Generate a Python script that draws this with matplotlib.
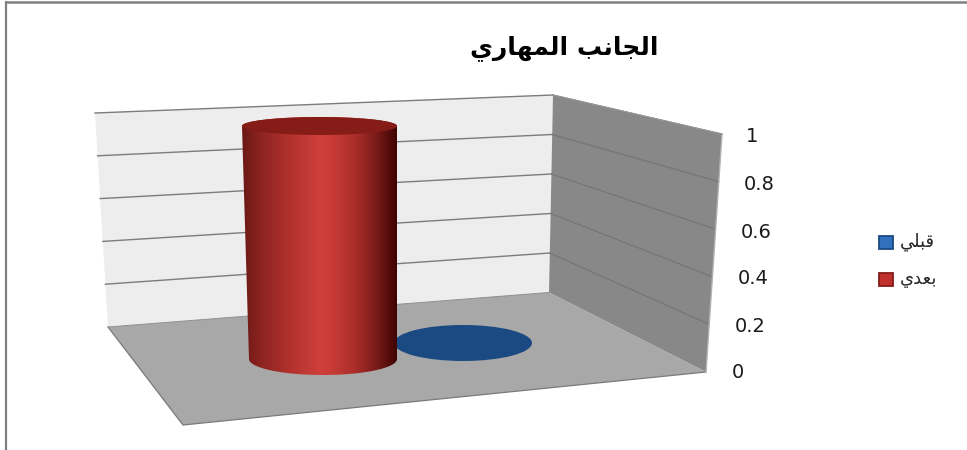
import numpy as np
import matplotlib
matplotlib.use('Agg')
import matplotlib.pyplot as plt
from matplotlib.colors import LinearSegmentedColormap
from matplotlib.patches import Ellipse, Polygon, Rectangle

# Chart data
title = 'الجانب المهاري'
series_names = ['قبلي', 'بعدي']
series_values = [0, 1]
tick_values = [0, 0.2, 0.4, 0.6, 0.8, 1]
tick_labels = ['0', '0.2', '0.4', '0.6', '0.8', '1']

# matplotlib does not join arabic letters, so pick the joined forms by hand
# letter: isolated, final, initial, medial
forms = {
    'ا': (0xFE8D, 0xFE8E),
    'د': (0xFEA9, 0xFEAA),
    'ر': (0xFEAD, 0xFEAE),
    'ب': (0xFE8F, 0xFE90, 0xFE91, 0xFE92),
    'ج': (0xFE9D, 0xFE9E, 0xFE9F, 0xFEA0),
    'ع': (0xFEC9, 0xFECA, 0xFECB, 0xFECC),
    'ق': (0xFED5, 0xFED6, 0xFED7, 0xFED8),
    'ل': (0xFEDD, 0xFEDE, 0xFEDF, 0xFEE0),
    'م': (0xFEE1, 0xFEE2, 0xFEE3, 0xFEE4),
    'ن': (0xFEE5, 0xFEE6, 0xFEE7, 0xFEE8),
    'ه': (0xFEE9, 0xFEEA, 0xFEEB, 0xFEEC),
    'ي': (0xFEF1, 0xFEF2, 0xFEF3, 0xFEF4),
}


def shape(text):
    out = []
    for i, ch in enumerate(text):
        if ch not in forms:
            out.append(ch)
            continue
        prev_joins = i > 0 and text[i - 1] in forms and len(forms[text[i - 1]]) == 4
        next_joins = i < len(text) - 1 and text[i + 1] in forms
        if len(forms[ch]) == 2:
            out.append(chr(forms[ch][1 if prev_joins else 0]))
        elif prev_joins and next_joins:
            out.append(chr(forms[ch][3]))
        elif next_joins:
            out.append(chr(forms[ch][2]))
        elif prev_joins:
            out.append(chr(forms[ch][1]))
        else:
            out.append(chr(forms[ch][0]))
    return ''.join(out[::-1])


def lerp(a, b, t):
    return a + (b - a) * t


# Layout of the 3d box, in pixels
back_tl, back_tr = (95, 113), (553, 95)
back_bl, back_br = (108, 327), (549, 292.5)
side_tr, side_br = (722, 134), (706, 372)
floor_fl = (183, 425)

# cylinder ellipse at value 0 and at value 1: cx, cy, rx, ry
cyl_base = [(463, 343, 69, 18), (323, 359, 74, 16)]
cyl_top = [(463, 130, 74, 9), (319.5, 126, 77.5, 9)]
cyl_colors = ['#1b4a82', '#861c18']
cyl_shade = LinearSegmentedColormap.from_list('cyl', [
    (0.0, '#6a1815'), (0.12, '#8d2421'), (0.3, '#b0302c'), (0.5, '#cf403c'),
    (0.58, '#c93b37'), (0.72, '#ad2f2b'), (0.86, '#7e1d1a'), (1.0, '#3e0402')])

fig = plt.figure(figsize=(9.67, 4.5), dpi=100)
ax = fig.add_axes([0, 0, 1, 1])
ax.axis('off')

# Outer frame
ax.plot([6, 6], [2, 450], color='#808080', lw=1.6)
ax.plot([6, 967], [2, 2], color='#808080', lw=1.8)

# Walls and floor
ax.add_patch(Polygon([back_tl, back_tr, back_br, back_bl], fc='#ededed', ec='none', zorder=1))
ax.add_patch(Polygon([back_tr, side_tr, side_br, back_br], fc='#888888', ec='none', zorder=1))
ax.add_patch(Polygon([back_bl, back_br, side_br, floor_fl], fc='#a8a8a8', ec='none', zorder=2))
ax.plot([back_bl[0], floor_fl[0], side_br[0]], [back_bl[1], floor_fl[1], side_br[1]],
        color='#7a7a7a', lw=0.9, zorder=3)
ax.plot([back_bl[0], back_br[0]], [back_bl[1], back_br[1]], color='#8f8f8f', lw=0.7, zorder=3)

# Gridlines, one per tick, running across both walls
for v in tick_values:
    t = v / max(tick_values)
    left = (lerp(back_bl[0], back_tl[0], t), lerp(back_bl[1], back_tl[1], t))
    mid = (lerp(back_br[0], back_tr[0], t), lerp(back_br[1], back_tr[1], t))
    right = (lerp(side_br[0], side_tr[0], t), lerp(side_br[1], side_tr[1], t))
    if v > 0:
        ax.plot([left[0], mid[0]], [left[1], mid[1]], color='#7c7c7c', lw=1.0, zorder=3)
        ax.plot([mid[0], right[0]], [mid[1], right[1]], color='#747474', lw=0.8, zorder=3)
ax.plot([side_tr[0], side_br[0]], [side_tr[1], side_br[1]], color='#b0b0b0', lw=1.0, zorder=3)
ax.plot([back_tr[0], side_tr[0]], [back_tr[1], side_tr[1]], color='#9a9a9a', lw=0.8, zorder=3)

# Tick labels
tick_x = [738, 750, 753, 756, 759, 752]
tick_y = [372, 327, 279, 232, 184, 136]
for x, y, label in zip(tick_x, tick_y, tick_labels):
    ax.text(x, y, label, ha='center', va='center', fontsize=14, color='#1a1a1a',
            family='DejaVu Sans')

# Cylinders
for i, v in enumerate(series_values):
    t = v / max(tick_values)
    cx0, cy0, rx0, ry0 = cyl_base[i]
    cx1, cy1, rx1, ry1 = [lerp(a, b, t) for a, b in zip(cyl_base[i], cyl_top[i])]
    if v == 0:
        # a zero value leaves only the flat disc on the floor
        ax.add_patch(Ellipse((cx0, cy0), 2 * rx0, 2 * ry0, fc=cyl_colors[i], ec='none', zorder=4))
        continue
    a = np.linspace(0, np.pi, 80)
    low = np.column_stack([cx0 + rx0 * np.cos(a), cy0 + ry0 * np.sin(a)])
    high = np.column_stack([cx1 - rx1 * np.cos(a), cy1 - ry1 * np.sin(a)])
    body = Polygon(np.vstack([low, high]), closed=True, fc='none', ec='none',
                   transform=ax.transData)
    ax.add_patch(body)
    im = ax.imshow(np.linspace(0, 1, 256)[None, :], cmap=cyl_shade, aspect='auto',
                   extent=[cx1 - rx1, cx1 + rx1, cy0 + ry0, cy1 - ry1], zorder=5)
    im.set_clip_path(body)
    ax.add_patch(Ellipse((cx1, cy1), 2 * rx1, 2 * ry1, fc=cyl_colors[i], ec='none', zorder=6))

# Title
ax.text(564, 48, shape(title), ha='center', va='center', fontsize=18, fontweight='bold',
        family='DejaVu Sans', color='black')

# Legend
legend_y = [242, 279.5]
legend_fc = ['#3270bd', '#c0312d']
legend_ec = ['#1b4a82', '#861c18']
for name, y, fc, ec in zip(series_names, legend_y, legend_fc, legend_ec):
    ax.add_patch(Rectangle((878.5, y - 6.5), 14, 13, fc=fc, ec=ec, lw=1.3, zorder=4))
    ax.text(900, y, shape(name), ha='left', va='center', fontsize=13, family='DejaVu Sans',
            color='#262626')

ax.set_xlim(0, 967)
ax.set_ylim(450, 0)
fig.savefig('out.png', dpi=100, facecolor='white')
plt.close(fig)
